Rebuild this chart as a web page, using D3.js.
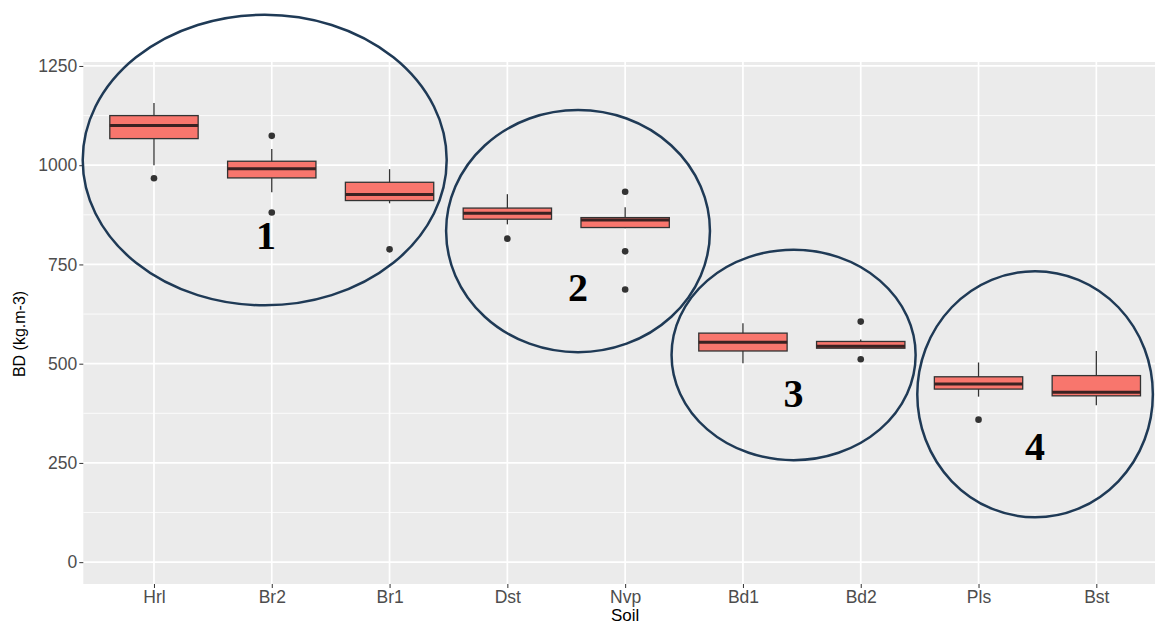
<!DOCTYPE html>
<html>
<head>
<meta charset="utf-8">
<script src="https://cdn.jsdelivr.net/npm/d3@7"></script>
<style>
  body { margin: 0; background: #fff; }
  svg { display: block; }
</style>
</head>
<body>
<script>
// soil classes, in plotting order
var soils = ["Hrl", "Br2", "Br1", "Dst", "Nvp", "Bd1", "Bd2", "Pls", "Bst"];
// box statistics (kg.m-3)
var whiskerHigh = [1157, 1041, 990, 927, 894, 602, 561, 503, 532];
var q3          = [1125, 1010, 957, 892, 868, 577, 556, 467, 470];
var median      = [1100, 991, 926, 879, 862, 554, 544, 449, 428];
var q1          = [1067, 968, 911, 864, 843, 532, 539, 436, 419];
var whiskerLow  = [1000, 932, 904, 851, 841, 501, 539, 417, 395];
var outliers    = [[967], [1074, 881], [788], [815], [933, 783, 687], [], [606, 511], [359], []];

var yTicks = [0, 250, 500, 750, 1000, 1250];
var yMinor = [125, 375, 625, 875, 1125];

// hand-drawn groupings (x in category index units, y in data units)
var groupLabels = ["1", "2", "3", "4"];
var groupCx     = [0.94, 3.60, 5.43, 7.48];
var groupRx     = [1.545, 1.12, 1.036, 1.0];
var groupCy     = [1013, 834, 522, 423];
var groupRy     = [366, 305, 265, 310];
var groupTextX  = [0.95, 3.60, 5.43, 7.48];
var groupTextY  = [789, 658, 391, 257];

var W = 1155, H = 626;
var panel = {left: 83.3, right: 1167, top: 62, bottom: 584};
var sans = "Liberation Sans, Arial, sans-serif";

var svg = d3.select("body").append("svg")
    .attr("width", W)
    .attr("height", H);

var x = d3.scalePoint()
    .domain(soils)
    .range([panel.left, panel.right])
    .padding(0.6);
var step = x.step();
var xi = function(i) { return x(soils[0]) + i * step; };

var y = d3.scaleLinear()
    .domain([-55, 1260])
    .range([panel.bottom, panel.top]);

// panel background
svg.append("rect")
    .attr("x", panel.left)
    .attr("y", panel.top)
    .attr("width", panel.right - panel.left)
    .attr("height", panel.bottom - panel.top)
    .attr("fill", "#EBEBEB");

// grid
svg.append("g").selectAll("line")
    .data(yMinor).enter().append("line")
    .attr("x1", panel.left).attr("x2", panel.right)
    .attr("y1", function(d) { return y(d); })
    .attr("y2", function(d) { return y(d); })
    .attr("stroke", "#fff").attr("stroke-width", 0.8);

svg.append("g").selectAll("line")
    .data(yTicks).enter().append("line")
    .attr("x1", panel.left).attr("x2", panel.right)
    .attr("y1", function(d) { return y(d); })
    .attr("y2", function(d) { return y(d); })
    .attr("stroke", "#fff").attr("stroke-width", 1.7);

svg.append("g").selectAll("line")
    .data(soils).enter().append("line")
    .attr("x1", function(d) { return x(d); })
    .attr("x2", function(d) { return x(d); })
    .attr("y1", panel.top).attr("y2", panel.bottom)
    .attr("stroke", "#fff").attr("stroke-width", 1.7);

// axes
var yAxis = d3.axisLeft(y).tickValues(yTicks).tickFormat(d3.format("d"))
    .tickSize(4).tickPadding(2);
var gy = svg.append("g")
    .attr("transform", "translate(" + panel.left + ",0)")
    .call(yAxis);
gy.select(".domain").remove();
gy.selectAll("line").attr("stroke", "#333");
gy.selectAll("text")
    .attr("fill", "#4D4D4D")
    .style("font-family", sans)
    .style("font-size", "17.5px");

var xAxis = d3.axisBottom(x).tickSize(4).tickPadding(3);
var gx = svg.append("g")
    .attr("transform", "translate(0," + panel.bottom + ")")
    .call(xAxis);
gx.select(".domain").remove();
gx.selectAll("line").attr("stroke", "#333");
gx.selectAll("text")
    .attr("fill", "#4D4D4D")
    .style("font-family", sans)
    .style("font-size", "17.5px");

svg.append("text")
    .attr("x", x("Nvp"))
    .attr("y", 621)
    .attr("text-anchor", "middle")
    .style("font-family", sans)
    .style("font-size", "17px")
    .text("Soil");

svg.append("text")
    .attr("transform", "translate(25,334) rotate(-90)")
    .attr("text-anchor", "middle")
    .style("font-family", sans)
    .style("font-size", "16px")
    .text("BD (kg.m-3)");

// boxplots
var boxW = step * 0.75;
var boxes = svg.append("g").selectAll("g")
    .data(soils).enter().append("g");

boxes.append("line")
    .attr("x1", function(d) { return x(d); })
    .attr("x2", function(d) { return x(d); })
    .attr("y1", function(d, i) { return y(whiskerHigh[i]); })
    .attr("y2", function(d, i) { return y(whiskerLow[i]); })
    .attr("stroke", "#333").attr("stroke-width", 1.3);

boxes.append("rect")
    .attr("x", function(d) { return x(d) - boxW / 2; })
    .attr("y", function(d, i) { return y(q3[i]); })
    .attr("width", boxW)
    .attr("height", function(d, i) { return y(q1[i]) - y(q3[i]); })
    .attr("fill", "#F8766D")
    .attr("stroke", "#333").attr("stroke-width", 1.3);

boxes.append("line")
    .attr("x1", function(d) { return x(d) - boxW / 2; })
    .attr("x2", function(d) { return x(d) + boxW / 2; })
    .attr("y1", function(d, i) { return y(median[i]); })
    .attr("y2", function(d, i) { return y(median[i]); })
    .attr("stroke", "#3a2222").attr("stroke-width", 3);

boxes.selectAll("circle")
    .data(function(d, i) { return outliers[i].map(function(v) { return {s: d, v: v}; }); })
    .enter().append("circle")
    .attr("cx", function(o) { return x(o.s); })
    .attr("cy", function(o) { return y(o.v); })
    .attr("r", 3.3)
    .attr("fill", "#333");

// group annotations
var groups = svg.append("g").selectAll("g")
    .data(groupLabels).enter().append("g");

groups.append("ellipse")
    .attr("cx", function(d, i) { return xi(groupCx[i]); })
    .attr("cy", function(d, i) { return y(groupCy[i]); })
    .attr("rx", function(d, i) { return groupRx[i] * step; })
    .attr("ry", function(d, i) { return y(0) - y(groupRy[i]); })
    .attr("fill", "none")
    .attr("stroke", "#1F3A56")
    .attr("stroke-width", 2.5);

groups.append("text")
    .attr("x", function(d, i) { return xi(groupTextX[i]); })
    .attr("y", function(d, i) { return y(groupTextY[i]); })
    .attr("text-anchor", "middle")
    .style("font-family", "Liberation Serif, Times New Roman, serif")
    .style("font-weight", "bold")
    .style("font-size", "40px")
    .text(function(d) { return d; });
</script>
</body>
</html>
